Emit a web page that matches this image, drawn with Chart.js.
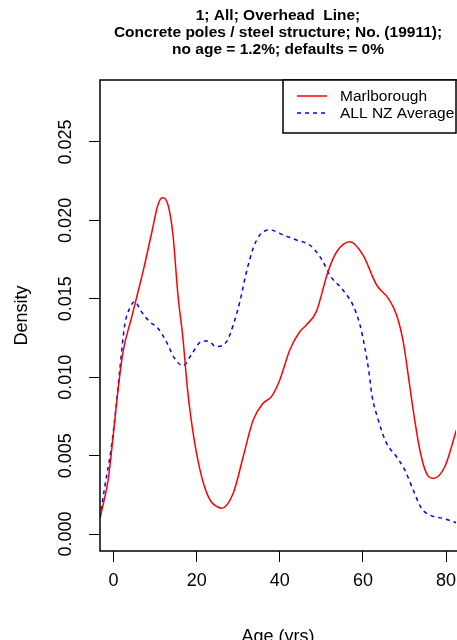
<!DOCTYPE html>
<html>
<head>
<meta charset="utf-8">
<script src="https://cdn.jsdelivr.net/npm/chart.js@4/dist/chart.umd.min.js"></script>
<style>
  html, body { margin: 0; padding: 0; background: #fff; overflow: hidden; }
  canvas { display: block; }
</style>
</head>
<body>
<canvas id="c" width="457" height="640"></canvas>
<script>
// values
var titleLines = ['1; All; Overhead  Line;', 'Concrete poles / steel structure; No. (19911);', 'no age = 1.2%; defaults = 0%'];
var seriesNames = ['Marlborough', 'ALL NZ Average'];

var marlAge = [-3.25, -1.3, -0.1, 1.1, 2.3, 4.3, 5.9, 7.1, 9.1, 10.7, 11.7, 13.1, 14.3, 15.5, 16.7, 17.7, 18.7, 20.3, 21.9, 23.5, 25, 26, 28.8, 31.2, 33.6, 36, 38, 40, 42.4, 44.8, 46.4, 48.8, 51.6, 53.7, 56.9, 60, 63.3, 66.1, 68.1, 69.7, 70.9, 72.1, 73.7, 75.3, 77, 79.7, 82.5];
var marlDensity = [0.00102, 0.00344, 0.0062, 0.0092, 0.01163, 0.01376, 0.01545, 0.01673, 0.0191, 0.0210, 0.02145, 0.0210, 0.0191, 0.01524, 0.0125, 0.0095, 0.00727, 0.00472, 0.00302, 0.00206, 0.00174, 0.00164, 0.0026, 0.00493, 0.00727, 0.00834, 0.00876, 0.00982, 0.01174, 0.0129, 0.01333, 0.01418, 0.01673, 0.018, 0.01864, 0.0178, 0.01588, 0.01503, 0.01397, 0.01227, 0.01014, 0.00791, 0.00536, 0.00387, 0.00355, 0.00429, 0.00663];

var nzAge = [-3.25, -2.1, -0.5, 0.7, 1.5, 2.7, 3.9, 5.1, 6.7, 8.7, 10.7, 12.7, 14.7, 16.7, 18.7, 21.1, 22.7, 24.7, 27.2, 28.8, 30.4, 32, 33.6, 35.2, 37.6, 40.8, 44, 47.2, 48.8, 50.4, 52, 55.2, 57.6, 59.3, 60.5, 61.5, 62.1, 63.7, 65.7, 68.1, 70.1, 72.1, 74.1, 76.1, 79.3, 82.5];
var nzDensity = [0.00102, 0.00302, 0.00557, 0.00834, 0.01046, 0.01333, 0.0144, 0.01482, 0.01418, 0.01354, 0.01312, 0.01227, 0.0112, 0.01073, 0.01142, 0.01227, 0.01231, 0.01195, 0.01227, 0.01333, 0.01482, 0.01673, 0.01822, 0.01907, 0.01939, 0.01907, 0.01875, 0.01843, 0.018, 0.01737, 0.01652, 0.01556, 0.0146, 0.01333, 0.01184, 0.01025, 0.00897, 0.00727, 0.00579, 0.00493, 0.00408, 0.00281, 0.00164, 0.00121, 0.001, 0.00072];

var xTicks = [0, 20, 40, 60, 80];
var yTicks = [0, 0.005, 0.010, 0.015, 0.020, 0.025];

function pairs(xs, ys) {
    return xs.map(function (x, i) { return { x: x, y: ys[i] }; });
}

var FONT = '"Liberation Sans", Arial, Helvetica, sans-serif';

// box around the plot (right side is cropped off in the original) + legend top right
var boxPlugin = {
    id: 'rbox',
    afterDraw: function (chart) {
        var ctx = chart.ctx;
        var a = chart.chartArea;
        ctx.save();
        ctx.strokeStyle = '#000';
        ctx.lineWidth = 1.5;
        ctx.beginPath();
        ctx.moveTo(a.right + 2, a.top);
        ctx.lineTo(a.left, a.top);
        ctx.lineTo(a.left, a.bottom);
        ctx.lineTo(a.right + 2, a.bottom);
        ctx.stroke();

        // legend
        var lx = 283, ly = a.top, lw = a.right - lx, lh = 53;
        ctx.fillStyle = '#fff';
        ctx.fillRect(lx, ly, lw, lh);
        ctx.strokeRect(lx, ly, lw, lh);
        ctx.font = '15.5px ' + FONT;
        ctx.textBaseline = 'middle';
        ctx.textAlign = 'left';
        chart.data.datasets.forEach(function (ds, i) {
            var y = ly + 17 + i * 17;
            ctx.strokeStyle = ds.borderColor;
            ctx.lineWidth = 1.5;
            ctx.setLineDash(ds.borderDash || []);
            ctx.beginPath();
            ctx.moveTo(lx + 14, y - 1);
            ctx.lineTo(lx + 44, y - 1);
            ctx.stroke();
            ctx.setLineDash([]);
            ctx.fillStyle = '#000';
            ctx.fillText(ds.label, lx + 57, y);
        });
        ctx.restore();
    }
};

new Chart(document.getElementById('c'), {
    type: 'line',
    data: {
        datasets: [{
            label: seriesNames[0],
            data: pairs(marlAge, marlDensity),
            borderColor: '#ff0000',
            borderWidth: 1.5,
            pointRadius: 0,
            fill: false,
            cubicInterpolationMode: 'monotone'
        }, {
            label: seriesNames[1],
            data: pairs(nzAge, nzDensity),
            borderColor: '#0000ff',
            borderWidth: 1.5,
            borderDash: [4, 4],
            pointRadius: 0,
            fill: false,
            cubicInterpolationMode: 'monotone'
        }]
    },
    options: {
        responsive: false,
        animation: false,
        layout: { padding: { right: 1 } },
        plugins: {
            legend: { display: false },
            tooltip: { enabled: false },
            title: {
                display: true,
                text: titleLines,
                color: '#000',
                fullSize: false,
                font: { family: FONT, size: 15.5, weight: 'bold', lineHeight: '17px' },
                padding: { top: 7, bottom: 22 }
            }
        },
        scales: {
            x: {
                type: 'linear',
                min: -3.25,
                max: 82.4,
                afterBuildTicks: function (s) { s.ticks = xTicks.map(function (v) { return { value: v }; }); },
                afterFit: function (s) { s.height = 89; s.paddingLeft = 0; s.paddingRight = 0; },
                border: { display: false },
                grid: { drawOnChartArea: false, drawTicks: true, tickLength: 11, color: '#000', lineWidth: 1 },
                ticks: {
                    color: '#000',
                    padding: 8,
                    maxRotation: 0,
                    font: { family: FONT, size: 18 },
                    callback: function (v) { return String(v); }
                },
                title: {
                    display: true,
                    text: 'Age (yrs)',
                    color: '#000',
                    font: { family: FONT, size: 18 },
                    padding: { top: 0, bottom: -8 }
                }
            },
            y: {
                type: 'linear',
                min: -0.00108,
                max: 0.02895,
                afterBuildTicks: function (s) { s.ticks = yTicks.map(function (v) { return { value: v }; }); },
                afterFit: function (s) { s.width = 100; s.paddingTop = 0; s.paddingBottom = 0; },
                border: { display: false },
                grid: { drawOnChartArea: false, drawTicks: true, tickLength: 11, color: '#000', lineWidth: 1 },
                ticks: {
                    color: '#000',
                    padding: 0,
                    minRotation: 90,
                    maxRotation: 90,
                    crossAlign: 'center',
                    font: { family: FONT, size: 18 },
                    callback: function (v) { return v.toFixed(3); }
                },
                title: {
                    display: true,
                    text: 'Density',
                    color: '#000',
                    font: { family: FONT, size: 18 },
                    padding: { top: 11, bottom: 0 }
                }
            }
        }
    },
    plugins: [boxPlugin]
});
</script>
</body>
</html>
